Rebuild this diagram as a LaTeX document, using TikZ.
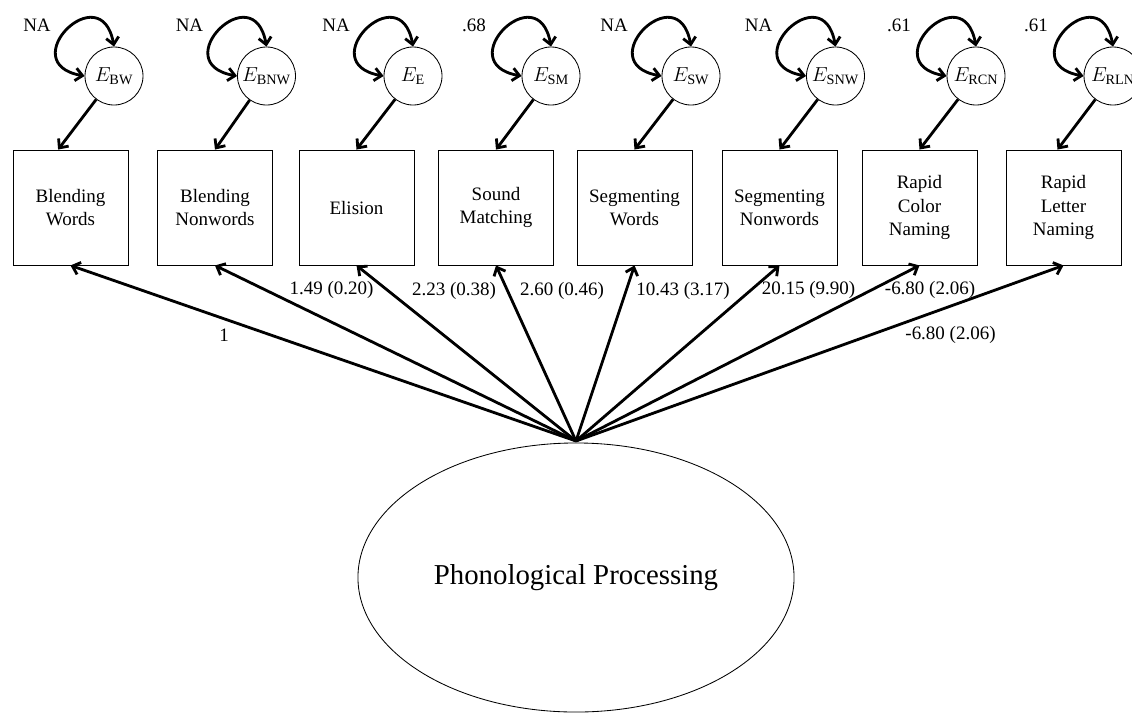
\documentclass[tikz,border=0pt]{standalone}
\usepackage{fontspec}
\setmainfont{Liberation Serif}
\usetikzlibrary{shapes.geometric,arrows.meta}

\begin{document}
\begin{tikzpicture}[x=0.025cm,y=0.025cm,
    >={Straight Barb[length=5pt,width=9pt]},
    obs/.style={draw,line width=0.6pt,minimum size=2.875cm,inner sep=0pt,align=center,font=\fontsize{13.5}{16.5}\selectfont},
    err/.style={draw,circle,line width=0.6pt,minimum size=1.45cm,inner sep=0pt,font=\fontsize{14.5}{16}\selectfont},
    lat/.style={draw,ellipse,line width=0.6pt,minimum width=10.9cm,minimum height=6.725cm,font=\fontsize{20.5}{24}\selectfont},
    load/.style={->,line width=2pt},
    varloop/.style={<->,line width=2pt},
    coef/.style={font=\fontsize{13.5}{16}\selectfont}]
        \useasboundingbox (0,0) rectangle (1132,-713);
        \clip (0,0) rectangle (1132,-713);

        \node[obs] (bw) at (70.5,-207.5) {Blending\\Words};
        \node[obs] (bnw) at (215,-207.5) {Blending\\Nonwords};
        \node[obs] (el) at (356.5,-207.5) {Elision};
        \node[obs] (sm) at (496,-207.5) {Sound\\Matching};
        \node[obs] (sw) at (634.5,-207.5) {Segmenting\\Words};
        \node[obs] (snw) at (779.5,-207.5) {Segmenting\\Nonwords};
        \node[obs] (rcn) at (919.5,-207.5) {Rapid\\Color\\Naming};
        \node[obs] (rln) at (1063.5,-207.5) {Rapid\\Letter\\Naming};

        \node[err] (ebw) at (114,-76) {$E_{\mathrm{BW}}$};
        \node[err] (ebnw) at (266.5,-76) {$E_{\mathrm{BNW}}$};
        \node[err] (ee) at (413,-76) {$E_{\mathrm{E}}$};
        \node[err] (esm) at (551,-76) {$E_{\mathrm{SM}}$};
        \node[err] (esw) at (691,-76) {$E_{\mathrm{SW}}$};
        \node[err] (esnw) at (835.5,-76) {$E_{\mathrm{SNW}}$};
        \node[err] (ercn) at (976,-76) {$E_{\mathrm{RCN}}$};
        \node[err] (erln) at (1113,-76) {$E_{\mathrm{RLN}}$};

        \node[coef] (vbw) at (37,-25) {NA};
        \node[coef] (vbnw) at (189.5,-25) {NA};
        \node[coef] (ve) at (336,-25) {NA};
        \node[coef] (vsm) at (474,-25) {.68};
        \node[coef] (vsw) at (614,-25) {NA};
        \node[coef] (vsnw) at (758.5,-25) {NA};
        \node[coef] (vrcn) at (899,-25) {.61};
        \node[coef] (vrln) at (1036,-25) {.61};

        \draw[varloop] (ebw.west) to[out=170,in=100,looseness=4.5] (ebw.north);
        \draw[varloop] (ebnw.west) to[out=170,in=100,looseness=4.5] (ebnw.north);
        \draw[varloop] (ee.west) to[out=170,in=100,looseness=4.5] (ee.north);
        \draw[varloop] (esm.west) to[out=170,in=100,looseness=4.5] (esm.north);
        \draw[varloop] (esw.west) to[out=170,in=100,looseness=4.5] (esw.north);
        \draw[varloop] (esnw.west) to[out=170,in=100,looseness=4.5] (esnw.north);
        \draw[varloop] (ercn.west) to[out=170,in=100,looseness=4.5] (ercn.north);
        \draw[varloop] (erln.west) to[out=170,in=100,looseness=4.5] (erln.north);

        \draw[load] (ebw) -- ([xshift=-0.31cm]bw.north);
        \draw[load] (ebnw) -- (bnw.north);
        \draw[load] (ee) -- (el.north);
        \draw[load] (esm) -- (sm.north);
        \draw[load] (esw) -- (sw.north);
        \draw[load] (esnw) -- (snw.north);
        \draw[load] (ercn) -- (rcn.north);
        \draw[load] (erln) -- ([xshift=-0.15cm]rln.north);

        \node[lat] (pp) at (576,-577.5) {Phonological Processing};
        \coordinate (apex) at (576,-441);

        \draw[load] (apex) -- (bw.south);
        \draw[load] (apex) -- (bnw.south);
        \draw[load] (apex) -- (el.south);
        \draw[load] (apex) -- (sm.south);
        \draw[load] (apex) -- (sw.south);
        \draw[load] (apex) -- (snw.south);
        \draw[load] (apex) -- (rcn.south);
        \draw[load] (apex) -- (rln.south);

        \node[coef] (lbw) at (224,-335) {1};
        \node[coef] (lbnw) at (331.5,-290) {1.49 (0.20)};
        \node[coef] (lel) at (454,-291) {2.23 (0.38)};
        \node[coef] (lsm) at (562,-291) {2.60 (0.46)};
        \node[coef] (lsw) at (683,-291) {10.43 (3.17)};
        \node[coef] (lsnw) at (808.5,-290) {20.15 (9.90)};
        \node[coef] (lrcn) at (930,-290) {-6.80 (2.06)};
        \node[coef] (lrln) at (950.5,-335) {-6.80 (2.06)};
\end{tikzpicture}
\end{document}
